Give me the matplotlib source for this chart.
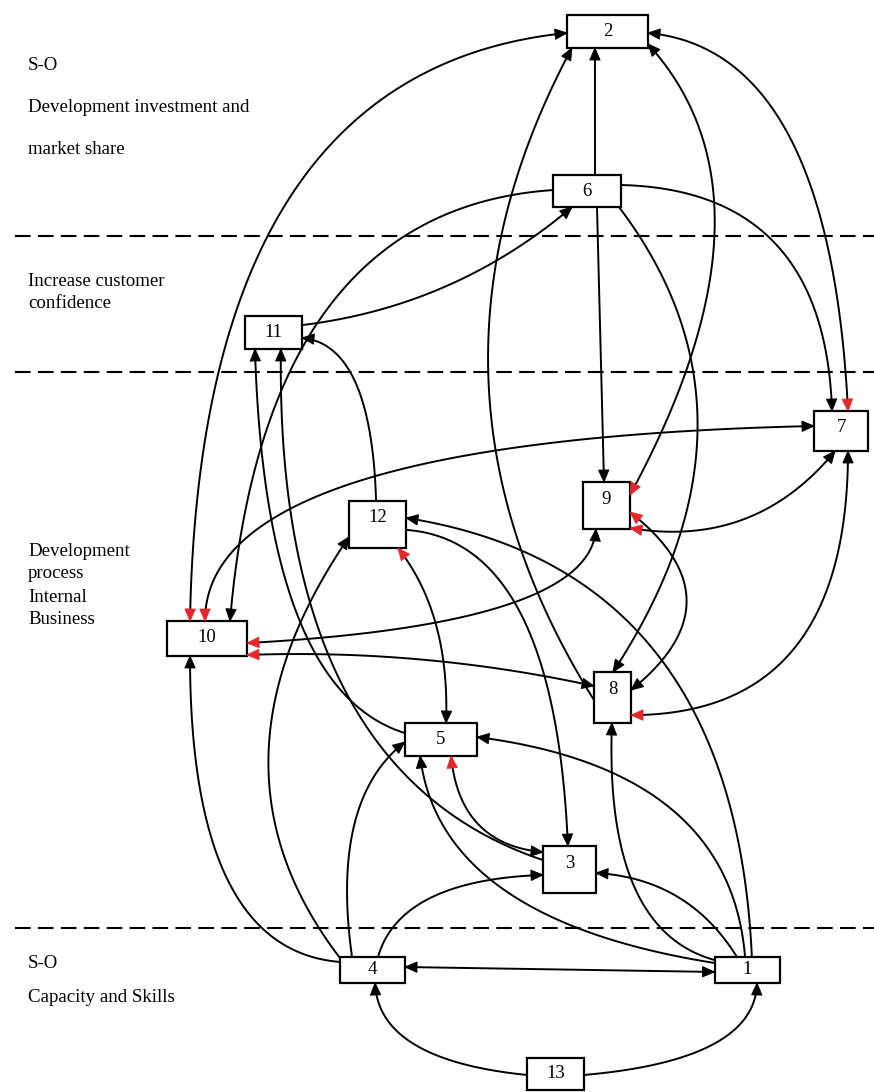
import numpy as np
import matplotlib
matplotlib.use("Agg")
import matplotlib.pyplot as plt
from matplotlib.patches import Rectangle, Polygon

# ---------------- data ----------------
node_ids = ['1', '2', '3', '4', '5', '6', '7', '8', '9', '10', '11', '12', '13']
node_x = [747, 607.5, 569.5, 372.5, 441, 587, 841, 612.5, 606.5, 207, 273.5, 377.5, 555.5]
node_y = [970, 31.5, 869.5, 970, 739.5, 191, 431, 697.5, 505.5, 638.5, 332.5, 524.5, 1074]
node_w = [65, 81, 53, 65, 72, 68, 54, 37, 47, 80, 57, 57, 57]
node_h = [26, 33, 47, 26, 33, 32, 40, 51, 47, 35, 33, 47, 32]

# perspective band separators (y, pixels) and side labels
band_lines = [236, 372, 928]
side_labels = ['S-O', 'Development investment and', 'market share',
               'Increase customer', 'confidence',
               'Development', 'process', 'Internal', 'Business',
               'S-O', 'Capacity and Skills']
side_label_y = [65, 108, 150, 282, 304, 552, 574, 597, 619, 963, 998]

# edges: source, target
edge_src = ['6', '10', '8', '9', '7', '6', '6', '6', '6', '11', '12', '5', '3', '10', '9', '8', '9',
            '9', '7', '12', '12', '1', '4', '4', '4', '4', '4', '13', '13', '1', '1', '3', '1', '1']
edge_dst = ['2', '2', '2', '2', '2', '7', '9', '8', '10', '6', '11', '11', '11', '7', '10', '10', '7',
            '8', '8', '5', '3', '12', '12', '10', '5', '3', '1', '4', '1', '5', '5', '5', '3', '8']
# arrowhead colour at each end ('' = none, 'k' = black, 'r' = red)
head_src = ['', 'r', '', 'r', 'r', '', '', '', '', '', '', '', '', 'r', 'k', 'k', 'r',
            'r', 'k', 'r', '', '', '', '', '', '', 'k', '', '', '', '', 'k', '', '']
head_dst = ['k', 'k', 'k', 'k', 'k', 'k', 'k', 'k', 'k', 'k', 'k', 'k', 'k', 'k', 'r', 'r', 'k',
            'k', 'r', 'k', 'k', 'k', 'k', 'k', 'k', 'k', 'k', 'k', 'k', 'k', 'k', 'r', 'k', 'k']
# attachment points on the boxes (fractions of half width / half height)
src_anchor = [(0.235, -1), (-0.425, -1), (-1, 0.1), (1, -0.45), (0.26, -1), (1, -0.375), (0.294, 1),
              (0.94, 1), (-1, -0.06), (1, -0.45), (-0.05, -1), (-1, -0.39), (-1, -0.40), (-0.05, -1),
              (-0.45, 1), (-1, -0.45), (1, 0.96), (1, 0.28), (0.26, 1), (0.72, 1), (1, 0.23),
              (0.15, -1), (-1, -0.92), (-1, -0.62), (-0.63, -1), (0.17, -1), (1, -0.23), (-1, 0.06),
              (1, 0.06), (-0.06, -1), (-1, -0.54), (-1, -0.74), (-0.31, -1), (-1, -0.77)]
dst_anchor = [(-0.31, 1), (-1, 0.09), (-0.88, 1), (1, 0.76), (1, 0.09), (-0.333, -1), (-0.106, -1),
              (0.03, -1), (0.575, -1), (-0.44, 1), (1, 0.33), (-0.65, 1), (0.26, 1), (-1, -0.25),
              (1, 0.26), (1, 0.94), (-0.22, 1), (1, -0.29), (1, 0.69), (0.14, -1), (-0.06, -1),
              (1, -0.28), (-1, 0.53), (-0.425, 1), (-1, 0.15), (-1, 0.23), (-1, 0.15), (0.08, 1),
              (0.31, 1), (1, -0.15), (-0.58, 1), (0.28, 1), (1, 0.15), (-0.03, 1)]
# curve shape: control point position along chord (t) and sideways bend (b)
edge_t = [0.5, 0.672, 0.5, 0.667, 0.766, 0.462, 0.5, 0.45, 0.35, 0.5, 0.807, 0.221, 0.352, 0.086,
          0.096, 0.5, 0.5, 0.5, 0.597, 0.429, 0.217, 0.564, 0.45, 0.225, 0.665, 0.293, 0.5, 0.761,
          0.806, 0.377, 0.694, 0.475, 0.5, 0.278]
edge_b = [0.0, -0.414, -0.29, 0.328, 0.358, -0.471, 0.0, -0.35, 0.406, 0.15, 0.338, -0.278, -0.344,
          -0.27, -0.242, 0.063, 0.29, -0.63, -0.49, -0.18, -0.36, 0.404, -0.36, -0.38, -0.266,
          -0.321, 0.0, -0.362, 0.342, 0.39, -0.34, -0.414, 0.26, -0.345]

# ---------------- drawing ----------------
W, H = 874, 1092
fig = plt.figure(figsize=(W / 100, H / 100), dpi=100)
ax = fig.add_axes([0, 0, 1, 1])
ax.set_xlim(0, W)
ax.set_ylim(H, 0)
ax.axis('off')

idx = {n: i for i, n in enumerate(node_ids)}
colors = {'k': 'black', 'r': '#e5262b'}
SERIF = ['Liberation Serif', 'DejaVu Serif']


def anchor(node, a):
    i = idx[node]
    return np.array([node_x[i] + a[0] * node_w[i] / 2.0, node_y[i] + a[1] * node_h[i] / 2.0])


def head(tip, frm, col):
    u = tip - frm
    u = u / np.linalg.norm(u)
    n = np.array([-u[1], u[0]])
    L, hw = 12.0, 5.2
    base = tip - L * u
    ax.add_patch(Polygon([tip, base + hw * n, base - hw * n], closed=True,
                         fc=colors[col], ec=colors[col], lw=0.6, zorder=6))


for y in band_lines:
    ax.plot([15, W], [y, y], color='black', lw=1.5, dashes=(7.5, 3.5), zorder=1)

for k in range(len(edge_src)):
    P0 = anchor(edge_src[k], src_anchor[k])
    P1 = anchor(edge_dst[k], dst_anchor[k])
    d = P1 - P0
    perp = np.array([-d[1], d[0]])
    C = P0 + edge_t[k] * d + edge_b[k] * perp
    s = np.linspace(0, 1, 120)[:, None]
    pts = (1 - s) ** 2 * P0 + 2 * (1 - s) * s * C + s ** 2 * P1
    ax.plot(pts[:, 0], pts[:, 1], color='black', lw=1.4, zorder=2, solid_capstyle='butt')
    if head_dst[k]:
        frm = C if np.linalg.norm(P1 - C) > 1 else P0
        head(P1, frm, head_dst[k])
    if head_src[k]:
        frm = C if np.linalg.norm(P0 - C) > 1 else P1
        head(P0, frm, head_src[k])

for i, n in enumerate(node_ids):
    x0 = node_x[i] - node_w[i] / 2.0
    y0 = node_y[i] - node_h[i] / 2.0
    ax.add_patch(Rectangle((x0, y0), node_w[i], node_h[i], fc='white', ec='black',
                           lw=1.6, zorder=4))
    ly = y0 + min(node_h[i] / 2.0, 17)
    ax.text(node_x[i], ly, n, ha='center', va='center', fontsize=13.5,
            family=SERIF, color='black', zorder=7)

for txt, y in zip(side_labels, side_label_y):
    ax.text(28, y, txt, ha='left', va='center', fontsize=13.6, family=SERIF,
            color='black', zorder=7)

fig.savefig('out.png', dpi=100, facecolor='white')
